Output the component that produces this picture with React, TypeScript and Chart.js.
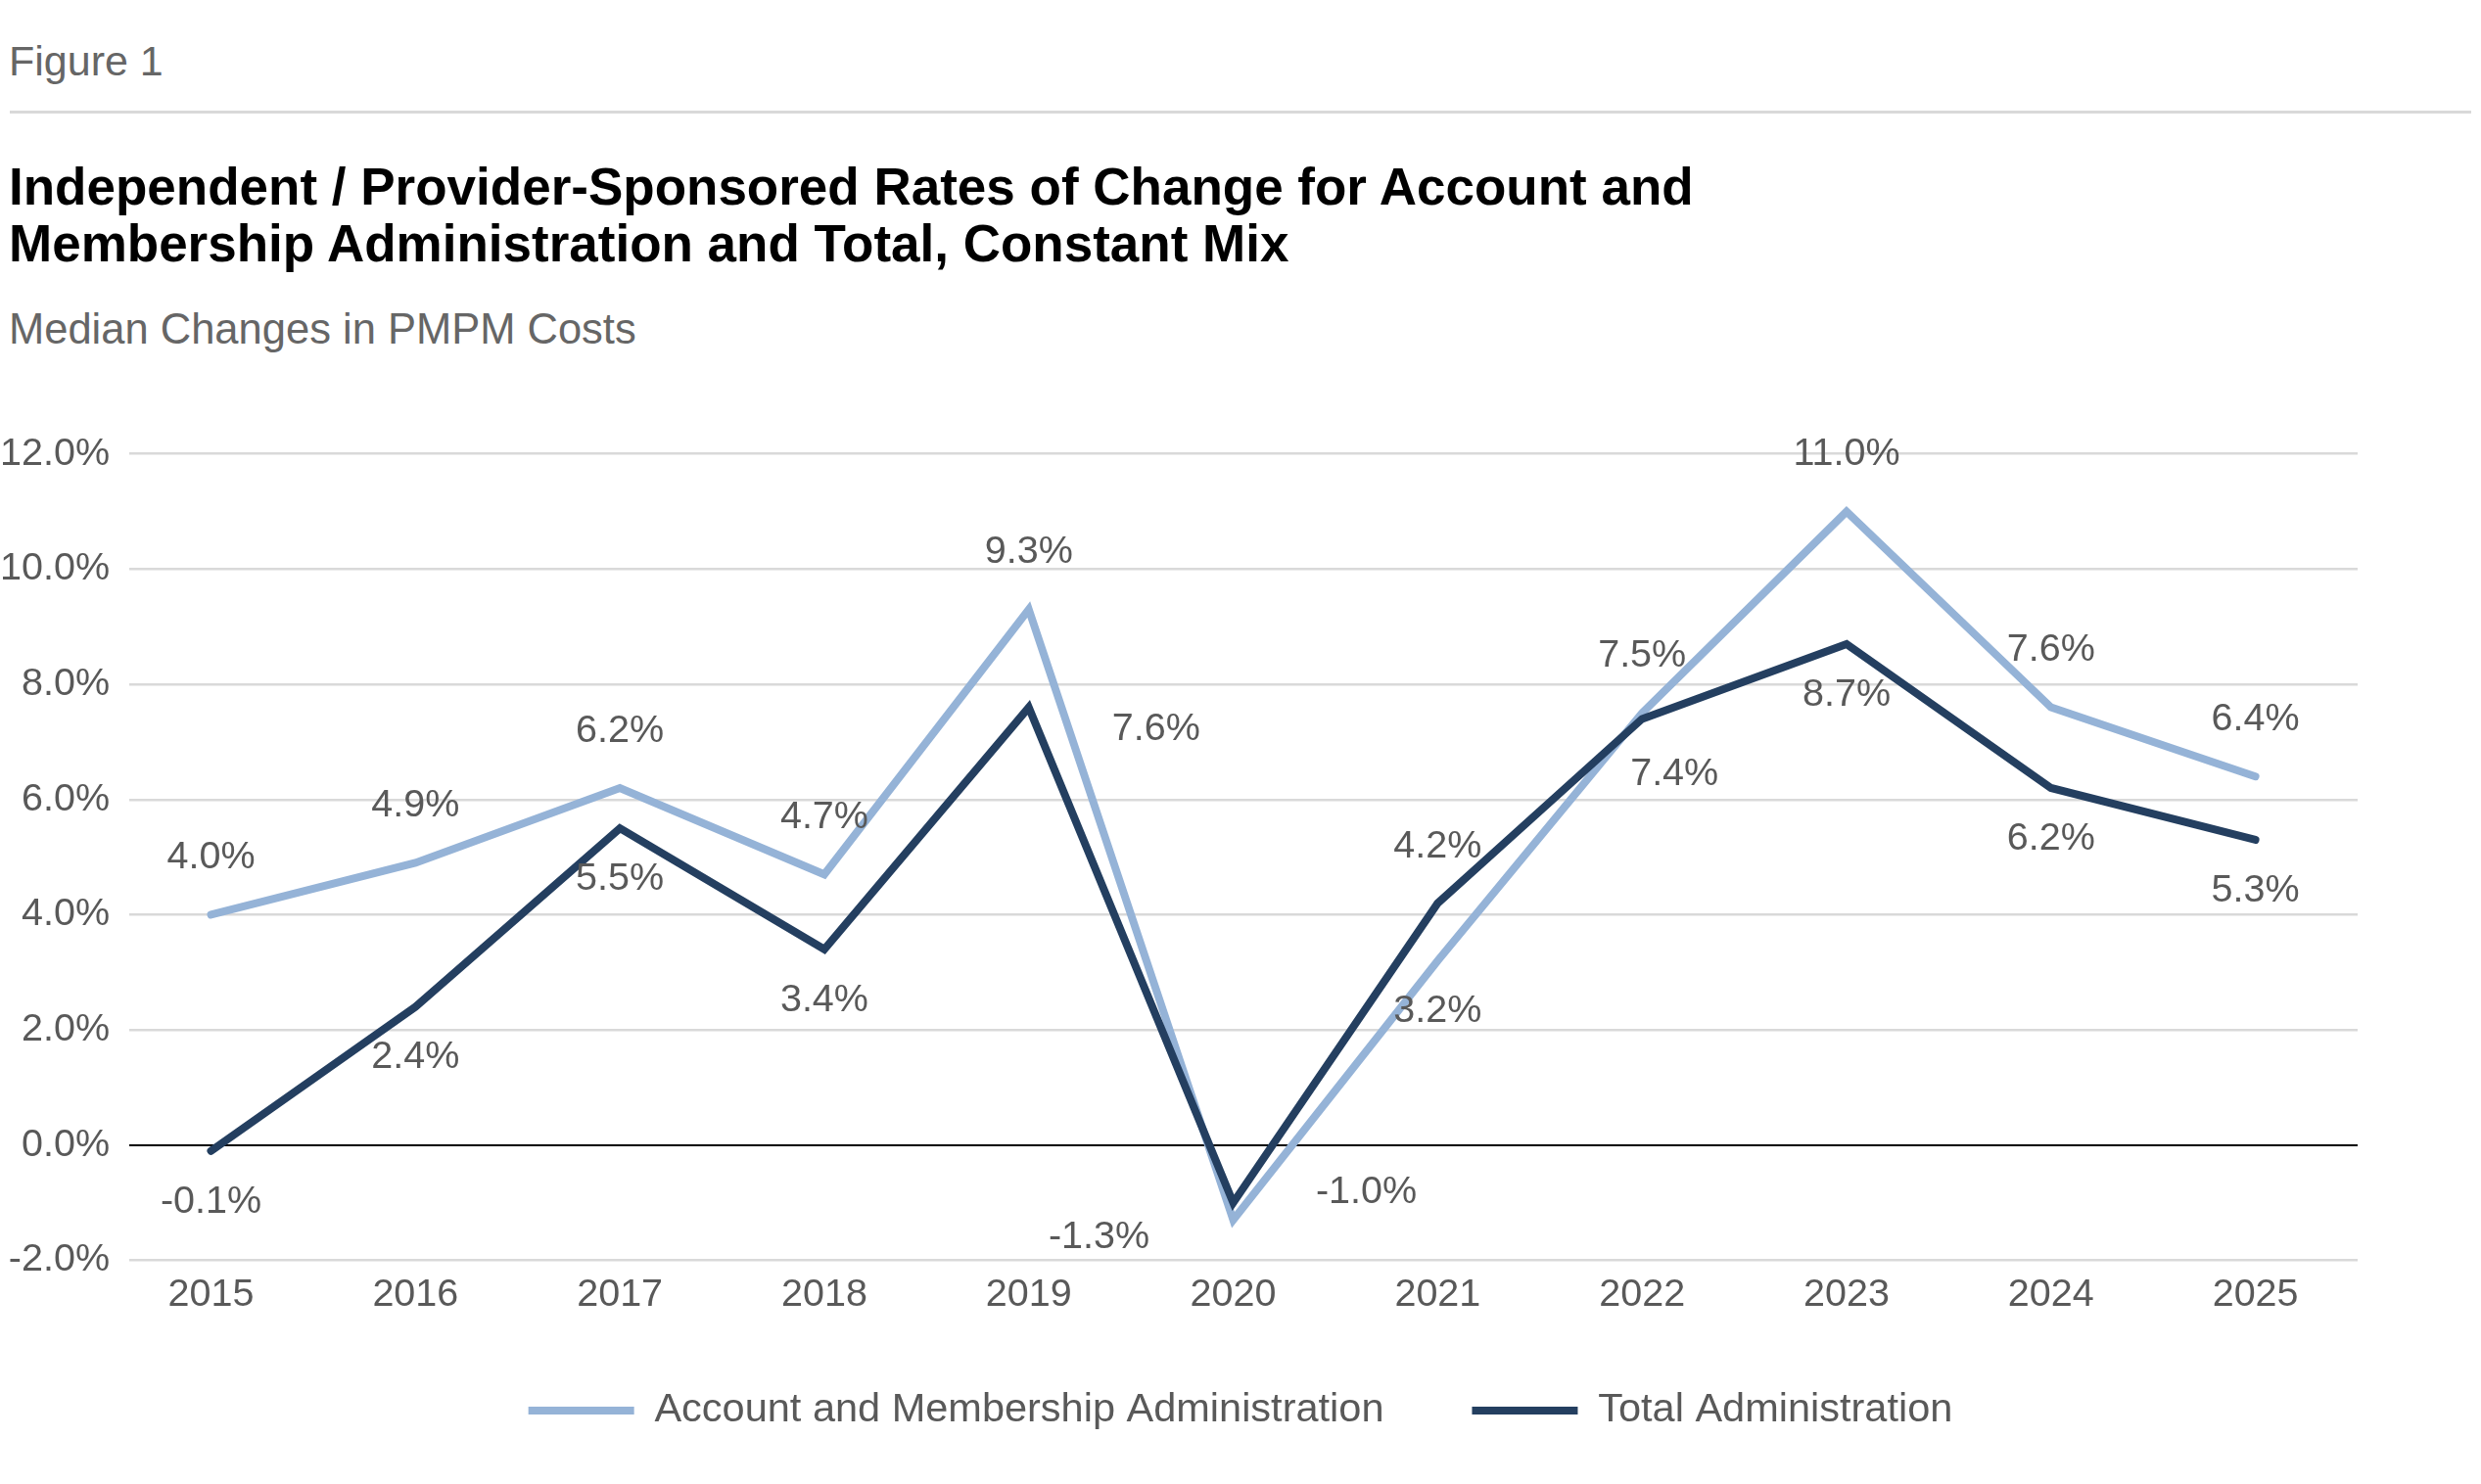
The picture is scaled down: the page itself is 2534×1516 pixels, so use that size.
import React, { useEffect, useRef } from 'react';
import { Chart, registerables } from 'chart.js';

Chart.register(...registerables);

const FONT = '"Liberation Sans", Arial, sans-serif';

// values
const years = ['2015', '2016', '2017', '2018', '2019', '2020', '2021', '2022', '2023', '2024', '2025'];
const accountChange = [4.0, 4.9, 6.2, 4.7, 9.3, -1.3, 3.2, 7.5, 11.0, 7.6, 6.4];
const totalChange = [-0.1, 2.4, 5.5, 3.4, 7.6, -1.0, 4.2, 7.4, 8.7, 6.2, 5.3];
const yTicks = [-2, 0, 2, 4, 6, 8, 10, 12];
const seriesNames = ['Account and Membership Administration', 'Total Administration'];

// where each data label sits relative to its point
const accountLabelSpots = ['above', 'above', 'above', 'above', 'above', 'left', 'below', 'above', 'above', 'above', 'above'];
const totalLabelSpots = ['below', 'below', 'below', 'below', 'right', 'rightUp', 'above', 'belowRight', 'below', 'below', 'below'];
const spotOffsets: Record<string, [number, number]> = {
    above: [0, -58],
    below: [0, 52],
    left: [-137, 18],
    right: [130, 23],
    rightUp: [136, -11],
    belowRight: [33, 57],
};

const LIGHT = '#95B3D7';
const DARK = '#243F60';
const TEXT = '#595959';
const TICK_SIZE = 39.5;

const pointLabels = {
    id: 'pointLabels',
    afterDatasetsDraw(chart: Chart) {
        const ctx = chart.ctx;
        ctx.save();
        ctx.font = `${TICK_SIZE}px ${FONT}`;
        ctx.fillStyle = TEXT;
        ctx.textAlign = 'center';
        ctx.textBaseline = 'middle';
        chart.data.datasets.forEach((ds, di) => {
            const meta = chart.getDatasetMeta(di);
            const spots = di === 0 ? accountLabelSpots : totalLabelSpots;
            meta.data.forEach((pt, i) => {
                const [dx, dy] = spotOffsets[spots[i]];
                const v = (ds.data[i] as any).y as number;
                ctx.fillText(v.toFixed(1) + '%', pt.x + dx, pt.y + dy);
            });
        });
        ctx.restore();
    },
};

// the legend's padding sets both the gap between items and its top offset;
// pull it up a little so the wide item gap does not push it too low
const legendNudge = {
    id: 'legendNudge',
    afterLayout(chart: Chart) {
        const lg: any = (chart as any).legend;
        if (lg) {
            lg.top -= 19.25;
            lg.bottom -= 19.25;
        }
    },
};

const RatesChart: React.FC = () => {
    const canvasRef = useRef<HTMLCanvasElement>(null);
    const chartInstance = useRef<Chart | null>(null);

    useEffect(() => {
        if (!canvasRef.current) return;
        if (chartInstance.current) chartInstance.current.destroy();

        Chart.defaults.font.family = FONT;

        chartInstance.current = new Chart(canvasRef.current, {
            type: 'line',
            data: {
                datasets: [
                    {
                        label: seriesNames[0],
                        data: years.map((_, i) => ({ x: i, y: accountChange[i] })),
                        borderColor: LIGHT,
                        backgroundColor: LIGHT,
                        borderWidth: 8,
                        borderCapStyle: 'round',
                        pointRadius: 0,
                        tension: 0,
                        order: 2,
                    },
                    {
                        label: seriesNames[1],
                        data: years.map((_, i) => ({ x: i, y: totalChange[i] })),
                        borderColor: DARK,
                        backgroundColor: DARK,
                        borderWidth: 8,
                        borderCapStyle: 'round',
                        pointRadius: 0,
                        tension: 0,
                        order: 1,
                    },
                ],
            },
            options: {
                responsive: true,
                maintainAspectRatio: false,
                animation: false,
                layout: { padding: { top: 43, left: 0, right: 0, bottom: 25 } },
                scales: {
                    x: {
                        type: 'linear',
                        min: -0.4,
                        max: 10.5,
                        grid: { display: false, drawTicks: false },
                        border: { display: false },
                        afterBuildTicks: (s: any) => {
                            s.ticks = years.map((_, i) => ({ value: i }));
                        },
                        afterFit: (s: any) => {
                            s.height = 62;
                        },
                        ticks: {
                            autoSkip: false,
                            maxRotation: 0,
                            padding: 12,
                            color: TEXT,
                            font: { size: TICK_SIZE },
                            callback: (v: any) => years[v as number] ?? '',
                        },
                    },
                    y: {
                        type: 'linear',
                        min: -2,
                        max: 12,
                        border: { display: false },
                        grid: {
                            drawTicks: false,
                            color: (c: any) => (c.tick && c.tick.value === 0 ? '#000000' : '#D9D9D9'),
                            lineWidth: (c: any) => (c.tick && c.tick.value === 0 ? 2 : 2.5),
                        },
                        afterBuildTicks: (s: any) => {
                            s.ticks = yTicks.map((v) => ({ value: v }));
                        },
                        afterFit: (s: any) => {
                            s.width = 132;
                        },
                        ticks: {
                            padding: 20,
                            color: TEXT,
                            font: { size: TICK_SIZE },
                            callback: (v: any) => Number(v).toFixed(1) + '%',
                        },
                    },
                    yPad: {
                        type: 'linear',
                        position: 'right',
                        grid: { display: false, drawTicks: false },
                        border: { display: false },
                        ticks: { display: false },
                        afterFit: (s: any) => {
                            s.width = 126;
                        },
                    },
                },
                plugins: {
                    legend: {
                        position: 'bottom',
                        labels: {
                            boxWidth: 108,
                            boxHeight: 8,
                            padding: 90,
                            color: TEXT,
                            font: { size: 41.5 },
                            generateLabels: (chart: Chart) =>
                                Chart.defaults.plugins.legend.labels
                                    .generateLabels(chart)
                                    .sort((a: any, b: any) => a.datasetIndex - b.datasetIndex)
                                    .map((l: any) => ({ ...l, lineWidth: 0, fillStyle: l.strokeStyle })),
                        },
                    },
                    title: { display: false },
                    tooltip: { enabled: false },
                },
            },
            plugins: [pointLabels, legendNudge],
        });

        return () => {
            if (chartInstance.current) {
                chartInstance.current.destroy();
                chartInstance.current = null;
            }
        };
    }, []);

    return <canvas ref={canvasRef}></canvas>;
};

const App: React.FC = () => {
    return (
        <div style={{ position: 'absolute', left: 0, top: 0, width: 2534, height: 1516, background: '#fff', fontFamily: FONT }}>
            <div style={{ position: 'absolute', left: 9, top: 41, fontSize: 43, lineHeight: '43px', color: '#666666' }}>
                Figure 1
            </div>
            <div style={{ position: 'absolute', left: 10, top: 113, width: 2514, height: 3, background: '#D9D9D9' }} />
            <div style={{ position: 'absolute', left: 9, top: 162, fontSize: 53, lineHeight: '58px', fontWeight: 'bold', color: '#000' }}>
                Independent / Provider-Sponsored Rates of Change for Account and
                <br />
                Membership Administration and Total, Constant Mix
            </div>
            <div style={{ position: 'absolute', left: 9, top: 315, fontSize: 43.5, lineHeight: '43.5px', color: '#666666' }}>
                Median Changes in PMPM Costs
            </div>
            <div style={{ position: 'absolute', left: 0, top: 420, width: 2534, height: 1096 }}>
                <RatesChart />
            </div>
        </div>
    );
};

export default App;
